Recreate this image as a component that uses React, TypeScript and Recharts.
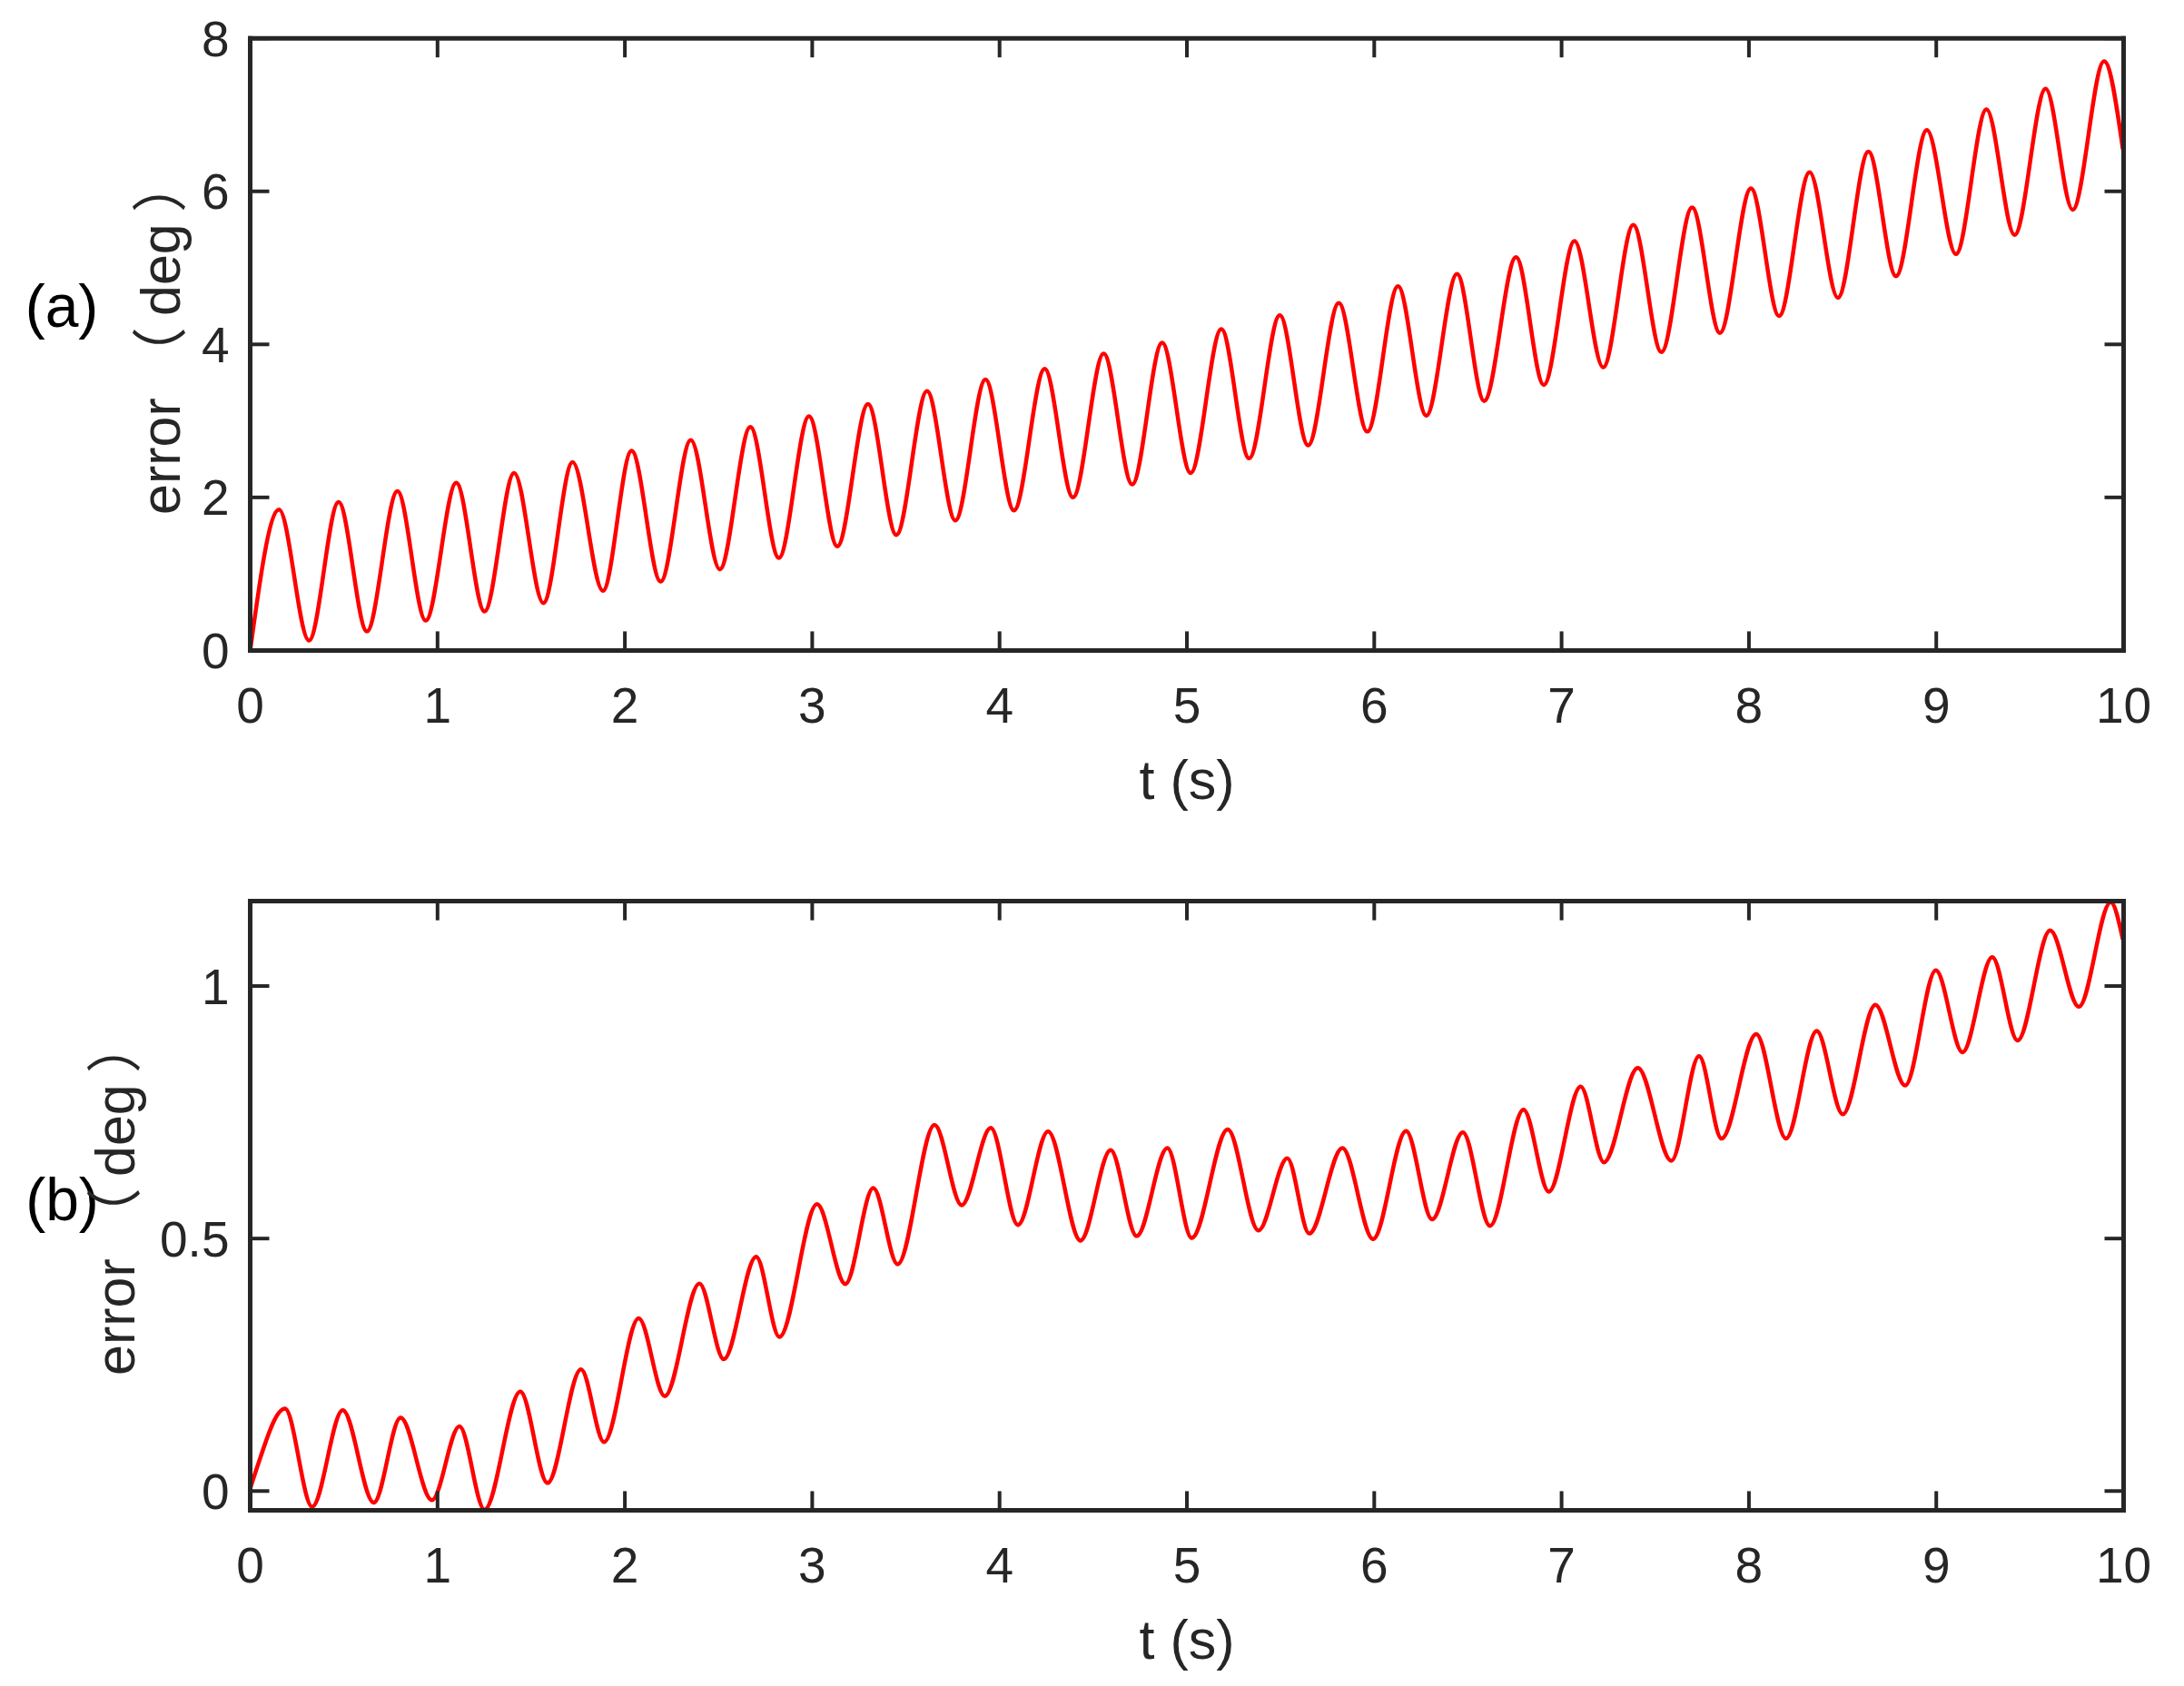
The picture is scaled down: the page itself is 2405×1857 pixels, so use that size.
import React from 'react';
import { Line, LineChart, XAxis, YAxis } from 'recharts';

// (a) error extrema
const timeA = [
  0, 0.154, 0.314, 0.472, 0.623, 0.786, 0.937, 1.1, 1.251, 1.409, 1.565, 1.721,
  1.883, 2.036, 2.191, 2.352, 2.507, 2.67, 2.822, 2.983, 3.134, 3.298, 3.449,
  3.613, 3.764, 3.925, 4.077, 4.241, 4.392, 4.556, 4.708, 4.868, 5.02, 5.184,
  5.332, 5.496, 5.647, 5.811, 5.963, 6.127, 6.278, 6.442, 6.587, 6.757, 6.905,
  7.069, 7.222, 7.383, 7.533, 7.697, 7.845, 8.011, 8.161, 8.324, 8.475, 8.638,
  8.785, 8.95, 9.105, 9.268, 9.418, 9.584, 9.728, 9.896, 9.996,
];
const errorA = [
  0, 1.84, 0.13, 1.94, 0.25, 2.08, 0.39, 2.19, 0.51, 2.32, 0.62, 2.46, 0.78,
  2.61, 0.9, 2.75, 1.06, 2.92, 1.21, 3.06, 1.36, 3.22, 1.51, 3.39, 1.7, 3.54,
  1.83, 3.68, 2.0, 3.88, 2.17, 4.02, 2.32, 4.2, 2.51, 4.38, 2.68, 4.54, 2.86,
  4.76, 3.07, 4.92, 3.26, 5.14, 3.47, 5.35, 3.7, 5.56, 3.9, 5.79, 4.15, 6.04,
  4.37, 6.25, 4.61, 6.52, 4.89, 6.8, 5.18, 7.07, 5.43, 7.34, 5.76, 7.7, 6.55,
];

// (b) error extrema
const timeB = [
  0, 0.028, 0.186, 0.331, 0.494, 0.66, 0.803, 0.97, 1.117, 1.251, 1.442, 1.587,
  1.766, 1.889, 2.074, 2.213, 2.398, 2.528, 2.701, 2.825, 3.026, 3.177, 3.326,
  3.456, 3.653, 3.798, 3.953, 4.098, 4.259, 4.432, 4.593, 4.732, 4.896, 5.026,
  5.218, 5.382, 5.536, 5.653, 5.83, 5.994, 6.17, 6.309, 6.473, 6.618, 6.797,
  6.932, 7.102, 7.226, 7.407, 7.586, 7.734, 7.854, 8.039, 8.198, 8.362, 8.501,
  8.675, 8.834, 8.998, 9.14, 9.299, 9.434, 9.608, 9.761, 9.931, 9.996,
];
const errorB = [
  0.005, 0.037, 0.163, -0.031, 0.16, -0.023, 0.145, -0.018, 0.128, -0.037,
  0.197, 0.016, 0.241, 0.097, 0.342, 0.188, 0.411, 0.261, 0.464, 0.305, 0.568,
  0.41, 0.6, 0.449, 0.725, 0.566, 0.719, 0.527, 0.712, 0.496, 0.675, 0.505,
  0.679, 0.501, 0.716, 0.516, 0.659, 0.51, 0.679, 0.499, 0.713, 0.538, 0.71,
  0.525, 0.755, 0.593, 0.801, 0.651, 0.838, 0.654, 0.861, 0.698, 0.905, 0.698,
  0.911, 0.746, 0.963, 0.803, 1.031, 0.869, 1.057, 0.892, 1.11, 0.959, 1.166,
  1.092,
];

const xTicks = [0, 1, 2, 3, 4, 5, 6, 7, 8, 9, 10];
const yTicksA = [0, 2, 4, 6, 8];
const yTicksB = [0, 0.5, 1];

const AX = '#262626';
const FONT = "'Liberation Sans', Arial, 'Noto Sans CJK SC', sans-serif";

const tickStyle = { fill: AX, fontSize: 55, fontFamily: FONT };
const lineStyle = { stroke: AX, strokeWidth: 5, strokeLinecap: 'square' as const };
const tickLineStyle = { stroke: AX, strokeWidth: 4 };
const noLabel = () => <g />;

type PanelProps = {
  data: { t: number; v: number }[];
  yDomain: [number, number];
  yTicks: number[];
  height: number;
  // plot box edges inside this chart
  box: { top: number; bottom: number; left: number; right: number };
};

function Panel({ data, yDomain, yTicks, height, box }: PanelProps) {
  // axes need a positive size or recharts skips them
  const margin = {
    top: box.top - 1,
    right: 2405 - box.right - 1,
    bottom: height - box.bottom - 60,
    left: box.left - 60,
  };
  return (
    <LineChart width={2405} height={height} data={data} margin={margin}>
      <XAxis
        xAxisId='b'
        dataKey='t'
        type='number'
        domain={[0, 10]}
        ticks={xTicks}
        interval={0}
        height={60}
        stroke={AX}
        strokeWidth={5}
        axisLine={lineStyle}
        tickLine={tickLineStyle}
        tickSize={-21}
        tickMargin={62}
        tick={tickStyle}
        allowDataOverflow
      />
      <XAxis
        xAxisId='top'
        orientation='top'
        dataKey='t'
        type='number'
        domain={[0, 10]}
        ticks={xTicks}
        interval={0}
        height={1}
        stroke={AX}
        strokeWidth={5}
        axisLine={lineStyle}
        tickLine={tickLineStyle}
        tickSize={-21}
        tick={noLabel}
        allowDataOverflow
      />
      <YAxis
        yAxisId='l'
        type='number'
        domain={yDomain}
        ticks={yTicks}
        interval={0}
        width={60}
        stroke={AX}
        strokeWidth={5}
        axisLine={lineStyle}
        tickLine={tickLineStyle}
        tickSize={-21}
        tickMargin={44}
        tick={tickStyle}
        allowDataOverflow
      />
      <YAxis
        yAxisId='r'
        orientation='right'
        type='number'
        domain={yDomain}
        ticks={yTicks}
        interval={0}
        width={1}
        stroke={AX}
        strokeWidth={5}
        axisLine={lineStyle}
        tickLine={tickLineStyle}
        tickSize={-21}
        tick={noLabel}
        allowDataOverflow
      />
      <Line
        xAxisId='b'
        yAxisId='l'
        type='monotone'
        dataKey='v'
        stroke='#ff0000'
        strokeWidth={4.5}
        dot={false}
        isAnimationActive={false}
      />
    </LineChart>
  );
}

export default function App() {
  const dataA = timeA.map((t, i) => ({ t, v: errorA[i] }));
  const dataB = timeB.map((t, i) => ({ t, v: errorB[i] }));

  return (
    <div
      style={{
        position: 'absolute',
        left: 0,
        top: 0,
        width: 2405,
        height: 1857,
        background: '#fff',
      }}
    >
      <div style={{ position: 'absolute', left: 0, top: 0 }}>
        <Panel
          data={dataA}
          yDomain={[0, 8]}
          yTicks={yTicksA}
          height={900}
          box={{ top: 42.2, bottom: 716.4, left: 275.5, right: 2338.5 }}
        />
      </div>
      <div style={{ position: 'absolute', left: 0, top: 900 }}>
        <Panel
          data={dataB}
          yDomain={[-0.038, 1.168]}
          yTicks={yTicksB}
          height={957}
          box={{ top: 92.6, bottom: 763.4, left: 275.5, right: 2338.5 }}
        />
      </div>

      {/* labels */}
      <svg
        width={2405}
        height={1857}
        style={{ position: 'absolute', left: 0, top: 0, pointerEvents: 'none' }}
      >
        <g fontFamily={FONT}>
          <text x={68} y={360} fontSize={66} fill='#000' textAnchor='middle'>
            (a)
          </text>
          <text x={68.5} y={1344} fontSize={66} fill='#000' textAnchor='middle'>
            (b)
          </text>
          <text x={1307} y={880} fontSize={61} fill={AX} textAnchor='middle'>
            t (s)
          </text>
          <text x={1307} y={1827} fontSize={61} fill={AX} textAnchor='middle'>
            t (s)
          </text>
          <text
            transform='translate(198,567) rotate(-90)'
            fontSize={61}
            fill={AX}
            textAnchor='start'
          >
            {'error （\u2009deg\u2009）'}
          </text>
          <text
            transform='translate(148,1515) rotate(-90)'
            fontSize={61}
            fill={AX}
            textAnchor='start'
          >
            {'error （\u2009deg\u2009）'}
          </text>
        </g>
      </svg>
    </div>
  );
}
